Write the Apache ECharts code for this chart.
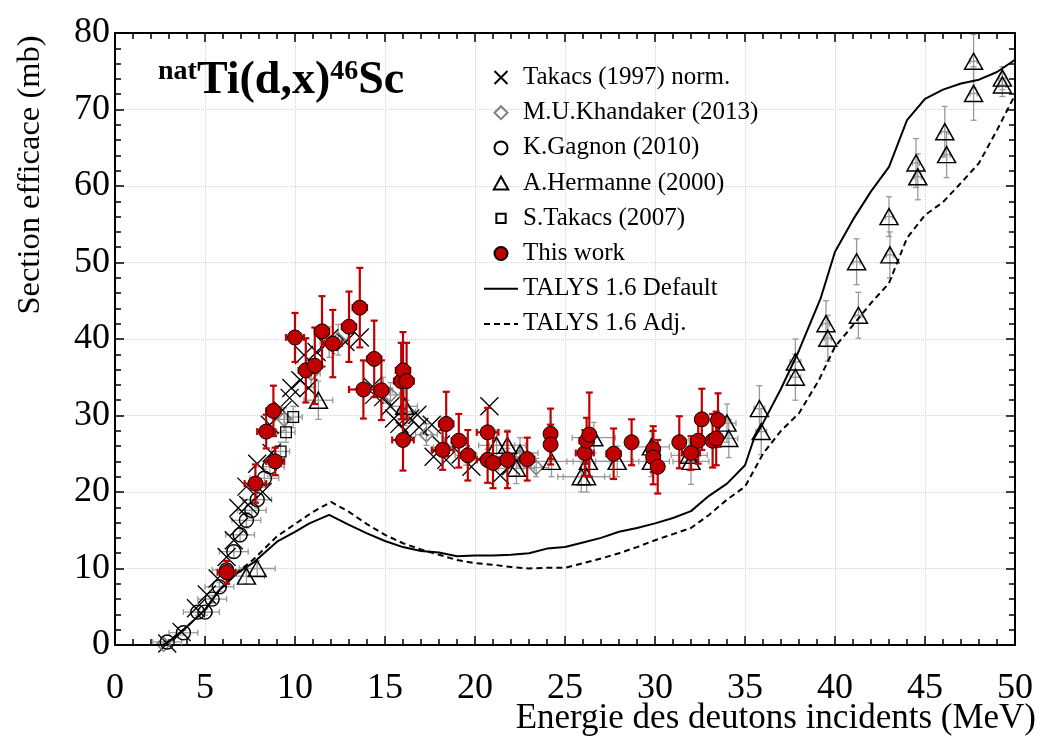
<!DOCTYPE html>
<html><head><meta charset="utf-8">
<script src="https://cdn.jsdelivr.net/npm/echarts@6/dist/echarts.min.js"></script>
<style>html,body{margin:0;padding:0;background:#fff}#c{width:1040px;height:740px}</style>
</head><body><div id="c"></div>
<script>
// ---- data: [E (MeV), sigma (mb), dE, dSigma] ----
const takacs1997 = [[2.9,0.2],[3.7,1.7],[4.5,4.8],[5.1,6.6],[5.7,8.7],[6.2,11.5],[6.6,13.7],[6.9,15.5],[6.85,17.9],[7.4,18.3],[7.3,20.7],[7.9,23.7],[8.2,20.0],[8.6,28.8],[8.7,25.1],[9.3,30.7],[9.7,32.3],[9.8,33.6],[10.3,34.6],[10.5,37.9],[10.75,33.6],[11.2,38.3],[11.7,39.2],[11.9,40.1],[12.8,39.6],[13.6,40.2],[14.3,33.8],[14.4,32.7],[14.9,32.4],[15.3,31.2],[15.5,29.6],[15.8,28.9],[16.1,28.0],[16.4,29.6],[16.8,30.1],[16.9,28.5],[17.6,28.8],[17.7,24.6],[18.1,26.2],[18.4,24.2],[19.2,24.9],[19.8,23.3],[20.8,31.2],[21.4,22.2],[22.0,23.4]];
const khandaker2013 = [[2.7,0.1,0.3,0.3],[9.4,29.5,0.5,1.5],[10.9,35.5,0.5,1.8],[11.9,39.6,0.5,2.0],[12.4,39.9,0.5,2.0],[14.9,33.3,0.5,1.7],[15.3,32.7,0.5,1.6],[16.2,30.5,0.5,1.5],[17.3,27.5,0.6,1.4],[18.3,25.8,0.6,1.3],[19.5,24.8,0.6,1.3],[20.7,24.4,0.7,1.2],[21.8,24.5,0.7,1.2],[22.5,24.6,0.7,1.2],[23.4,23.2,0.7,1.2]];
const gagnon2010 = [[2.9,0.4,0.8,0.2],[3.8,1.6,0.8,0.3],[4.6,4.3,0.8,0.4],[5.0,4.3,0.8,0.4],[5.4,6.0,0.8,0.5],[5.8,7.6,0.8,0.6],[6.2,9.8,0.8,0.7],[6.6,12.2,0.8,0.8],[6.95,14.4,0.8,0.9],[7.3,16.3,0.8,1.0],[7.6,17.6,0.8,1.0],[7.9,19.0,0.8,1.1],[8.3,21.8,0.8,1.2],[8.6,23.3,0.8,1.2]];
const hermanne2000 = [[7.3,9.0,1.0,1.0],[7.9,10.0,1.0,1.0],[11.3,32.0,0.8,2.5],[16.1,31.2,0.7,2.5],[21.2,26.1,1.0,2.0],[21.8,26.1,1.0,2.0],[22.5,25.1,1.0,2.0],[22.3,23.1,1.0,2.0],[24.25,24.0,1.2,2.0],[25.9,22.0,1.3,2.0],[26.2,22.0,1.3,2.0],[26.3,24.0,1.2,2.0],[26.6,27.1,1.2,2.0],[27.9,24.0,1.2,2.0],[29.8,25.9,1.0,2.0],[29.8,24.0,1.0,2.0],[31.9,24.8,1.0,2.0],[32.0,24.0,1.0,3.0],[34.0,29.0,0.5,2.5],[34.1,27.0,0.5,2.5],[35.8,30.9,0.3,3.0],[35.9,27.9,0.3,3.0],[37.8,37.0,0.3,3.0],[37.8,35.0,0.3,3.0],[39.5,42.0,0.2,3.0],[39.6,40.1,0.2,3.0],[41.2,50.1,0.2,3.0],[41.3,43.1,0.2,3.0],[43.0,56.0,0.2,2.6],[43.05,51.0,0.2,3.0],[44.5,63.0,0.2,3.2],[44.6,61.2,0.2,3.0],[46.1,67.1,0.2,3.3],[46.2,64.1,0.2,3.0],[47.7,76.3,0.2,3.5],[47.7,72.1,0.2,3.5],[49.3,74.1,0.2,1.5],[49.3,73.2,0.2,1.5]];
const takacs2007 = [[9.2,25.3,0.5,1.2],[9.5,27.8,0.5,1.3],[9.9,29.8,0.5,1.4]];
const thisWork = [[6.2,9.5,0.5,1.5],[7.8,21.1,0.6,2.5],[8.4,27.9,0.5,2.2],[8.8,30.6,0.4,3.3],[8.9,24.0,0.5,1.8],[10.0,40.2,0.5,3.2],[10.6,35.9,0.4,4.2],[11.1,36.5,0.4,5.0],[11.5,41.0,0.4,4.6],[12.1,39.4,0.5,4.4],[13.0,41.6,0.4,4.6],[13.6,44.1,0.4,5.2],[13.8,33.4,0.8,3.8],[14.4,37.4,0.4,5.0],[14.8,33.3,0.4,3.9],[15.9,34.5,0.4,5.0],[16.0,35.9,0.4,5.0],[16.2,34.5,0.4,5.0],[16.0,26.8,0.6,4.0],[18.2,25.5,0.6,2.6],[18.4,28.9,0.4,4.2],[19.1,26.7,0.4,3.5],[19.6,24.8,0.4,3.3],[20.7,27.8,0.6,3.2],[20.7,24.2,0.6,3.0],[21.0,23.8,0.4,3.3],[21.8,24.2,0.4,3.7],[22.9,24.3,0.4,2.8],[24.2,27.6,0.3,3.3],[24.2,26.2,0.3,2.6],[26.1,25.1,0.5,3.0],[26.2,26.7,0.4,3.0],[26.35,27.5,0.3,5.5],[27.7,25.0,0.4,3.3],[28.7,26.5,0.3,3.0],[29.9,25.6,0.3,3.0],[29.9,24.5,0.3,3.5],[30.15,23.3,0.3,3.5],[31.35,26.5,0.3,3.4],[32.0,25.1,0.5,2.2],[32.4,26.7,0.3,3.0],[32.6,29.5,0.3,4.0],[33.2,26.7,0.3,3.5],[33.4,27.0,0.3,3.5],[33.5,29.4,0.3,3.5]];
const talysDefault = [[0,0],[2.7,0],[3.2,0.8],[4.0,2.4],[5.0,4.6],[5.8,7.2],[6.8,9.4],[7.7,10.8],[9.0,13.5],[10.0,14.8],[10.8,15.9],[11.9,17.0],[13.0,15.7],[14.0,14.6],[15.0,13.6],[16.0,12.8],[17.0,12.3],[18.0,12.1],[19.0,11.6],[20.0,11.7],[21.0,11.7],[22.0,11.8],[23.0,12.0],[24.0,12.6],[25.0,12.8],[26.0,13.4],[27.0,14.0],[28.0,14.8],[29.0,15.3],[30.0,15.9],[31.0,16.6],[32.0,17.5],[33.0,19.5],[34.0,21.1],[35.0,23.5],[35.5,27.0],[36.0,29.0],[37.0,33.5],[38.0,38.5],[39.2,45.3],[40.0,51.4],[41.0,55.6],[42.0,59.3],[43.0,62.5],[44.0,68.6],[45.0,71.4],[46.0,72.6],[47.0,73.4],[48.0,73.9],[49.0,74.9],[50.0,76.5]];
const talysAdj = [[0,0],[2.7,0],[3.2,0.8],[4.0,2.4],[5.0,4.6],[5.8,7.2],[6.8,9.5],[7.7,11.2],[9.0,14.2],[10.0,15.8],[11.0,17.4],[12.0,18.7],[13.0,17.4],[14.0,15.8],[15.0,14.4],[16.0,13.3],[17.0,12.5],[18.0,11.8],[19.0,11.1],[20.0,10.7],[21.0,10.5],[22.0,10.2],[23.0,10.0],[24.0,10.1],[25.0,10.1],[26.0,10.7],[27.0,11.3],[28.0,12.0],[29.0,12.8],[30.0,13.7],[31.0,14.5],[32.0,15.3],[33.0,17.0],[34.0,19.0],[35.0,20.7],[36.0,25.0],[37.0,28.0],[38.0,30.3],[39.1,34.6],[40.0,39.0],[41.0,41.8],[42.0,44.7],[43.0,47.3],[44.0,53.2],[45.0,56.2],[46.0,57.9],[47.0,60.4],[48.0,63.0],[49.0,67.3],[50.0,71.9]];
const xTicks = {min:0, max:50, step:5};
const yTicks = {min:0, max:80, step:10};

const FONT = 'Liberation Serif';
const chart = echarts.init(document.getElementById('c'), null, {renderer:'canvas'});

function errSeries(data, color, lw, cap, z){
  return {
    type:'custom', silent:true, z:z, clip:true, data:data, encode:{x:0,y:1},
    renderItem:function(params, api){
      const x=api.value(0), y=api.value(1), ex=api.value(2), ey=api.value(3);
      const c=api.coord([x,y]);
      const ch=[];
      const mk=(x1,y1,x2,y2)=>({type:'line',shape:{x1,y1,x2,y2},style:{stroke:color,lineWidth:lw,fill:null}});
      if(ey>0){
        const lo=api.coord([x,y-ey]), hi=api.coord([x,y+ey]);
        ch.push(mk(c[0],lo[1],c[0],hi[1]));
        ch.push(mk(c[0]-cap,lo[1],c[0]+cap,lo[1]));
        ch.push(mk(c[0]-cap,hi[1],c[0]+cap,hi[1]));
      }
      if(ex>0){
        const l=api.coord([x-ex,y]), r=api.coord([x+ex,y]);
        ch.push(mk(l[0],c[1],r[0],c[1]));
        ch.push(mk(l[0],c[1]-cap,l[0],c[1]+cap));
        ch.push(mk(r[0],c[1]-cap,r[0],c[1]+cap));
      }
      return {type:'group',children:ch};
    }
  };
}
const GRAY='#999999';
const RED='#c00000';
const CROSS='path://M0,0L10,10M10,0L0,10';
const DIAMOND='path://M5,0L10,5L5,10L0,5Z';
const TRIANGLE='path://M5,0L10,9L0,9Z';
const SQUARE='path://M-2,-2M12,12M0,0L10,0L10,10L0,10Z';

const axisCommon = {
  axisLine:{show:true,onZero:false,lineStyle:{color:'#000',width:2}},
  axisTick:{show:true,inside:true,length:9,lineStyle:{color:'#000',width:1.5}},
  minorTick:{show:true,splitNumber:5,length:6,lineStyle:{color:'#000',width:1.5}},
};

const option = {
  animation:false,
  backgroundColor:'#fff',
  grid:{left:115,right:25,top:33,bottom:95},
  xAxis:[
    Object.assign({type:'value',min:xTicks.min,max:xTicks.max,interval:xTicks.step,position:'bottom',
      splitLine:{show:true,lineStyle:{color:'#d4d4d4',type:'dotted',width:1}},
      axisLabel:{fontFamily:FONT,fontSize:36,color:'#000',margin:26}},axisCommon),
    Object.assign({type:'value',min:xTicks.min,max:xTicks.max,interval:xTicks.step,position:'top',
      splitLine:{show:false},axisLabel:{show:false}},axisCommon)
  ],
  yAxis:[
    Object.assign({type:'value',min:yTicks.min,max:yTicks.max,interval:yTicks.step,position:'left',
      splitLine:{show:true,lineStyle:{color:'#d4d4d4',type:'dotted',width:1}},
      axisLabel:{fontFamily:FONT,fontSize:36,color:'#000',margin:5}},axisCommon),
    Object.assign({type:'value',min:yTicks.min,max:yTicks.max,interval:yTicks.step,position:'right',
      splitLine:{show:false},axisLabel:{show:false}},axisCommon)
  ],
  legend:{
    orient:'vertical', left:483, top:65, padding:0, itemWidth:34, itemHeight:13, itemGap:10.2,
    textStyle:{fontFamily:FONT,fontSize:25,color:'#000',lineHeight:25},
    data:['Takacs (1997) norm.','M.U.Khandaker (2013)','K.Gagnon (2010)','A.Hermanne (2000)','S.Takacs (2007)','This work','TALYS 1.6 Default','TALYS 1.6 Adj.']
  },
  graphic:[
    {type:'text',left:158,top:58,z:100,style:{
      text:'{s|nat}{m|Ti(d,x)}{s|46}{m|Sc}',
      rich:{s:{fontFamily:FONT,fontWeight:'bold',fontSize:28,verticalAlign:'top',lineHeight:46},
            m:{fontFamily:FONT,fontWeight:'bold',fontSize:46,verticalAlign:'bottom',lineHeight:46}},
      fill:'#000'}},
    {type:'text',x:30,y:175,rotation:Math.PI/2,z:100,style:{text:'Section efficace (mb)',fontFamily:FONT,fontSize:32.5,fill:'#000',align:'center',verticalAlign:'middle'}},
    {type:'text',x:1036,y:719,z:100,style:{text:'Energie des deutons incidents (MeV)',fontFamily:FONT,fontSize:35,fill:'#000',align:'right',verticalAlign:'middle'}}
  ],
  series:[
    errSeries(gagnon2010,GRAY,1.3,3,2),
    errSeries(hermanne2000,GRAY,1.3,3,2),
    errSeries(khandaker2013,GRAY,1.3,3,2),
    errSeries(takacs2007,GRAY,1.3,3,2),
    {name:'Takacs (1997) norm.',type:'scatter',data:takacs1997,symbol:CROSS,symbolSize:18,z:3,
      itemStyle:{color:'rgba(0,0,0,0)',borderColor:'#000',borderWidth:1.3,opacity:1}},
    {name:'M.U.Khandaker (2013)',type:'scatter',data:khandaker2013,symbol:DIAMOND,symbolSize:14,z:3,
      itemStyle:{color:'rgba(0,0,0,0)',borderColor:'#808080',borderWidth:1.6,opacity:1}},
    {name:'K.Gagnon (2010)',type:'scatter',data:gagnon2010,symbol:'circle',symbolSize:14,z:3,
      itemStyle:{color:'rgba(0,0,0,0)',borderColor:'#000',borderWidth:1.4,opacity:1}},
    {name:'A.Hermanne (2000)',type:'scatter',data:hermanne2000,symbol:TRIANGLE,symbolSize:[18,16],z:3,
      itemStyle:{color:'rgba(0,0,0,0)',borderColor:'#000',borderWidth:1.5,opacity:1}},
    {name:'S.Takacs (2007)',type:'scatter',data:takacs2007,symbol:SQUARE,symbolSize:15,z:3,
      itemStyle:{color:'rgba(0,0,0,0)',borderColor:'#000',borderWidth:1.3,opacity:1}},
    {name:'TALYS 1.6 Default',type:'line',data:talysDefault,symbol:'circle',showSymbol:false,symbolSize:0,z:4,
      lineStyle:{color:'#000',width:2,type:'solid'},itemStyle:{color:'rgba(0,0,0,0)',borderWidth:0}},
    {name:'TALYS 1.6 Adj.',type:'line',data:talysAdj,symbol:'circle',showSymbol:false,symbolSize:0,z:4,
      lineStyle:{color:'#000',width:2,type:[6,4]},itemStyle:{color:'rgba(0,0,0,0)',borderWidth:0}},
    errSeries(thisWork,RED,2.2,3.5,5),
    {name:'This work',type:'scatter',data:thisWork,symbol:'circle',symbolSize:15,z:6,
      itemStyle:{color:RED,borderColor:'#000',borderWidth:1,opacity:1}}
  ]
};
chart.setOption(option);
</script>
</body></html>
